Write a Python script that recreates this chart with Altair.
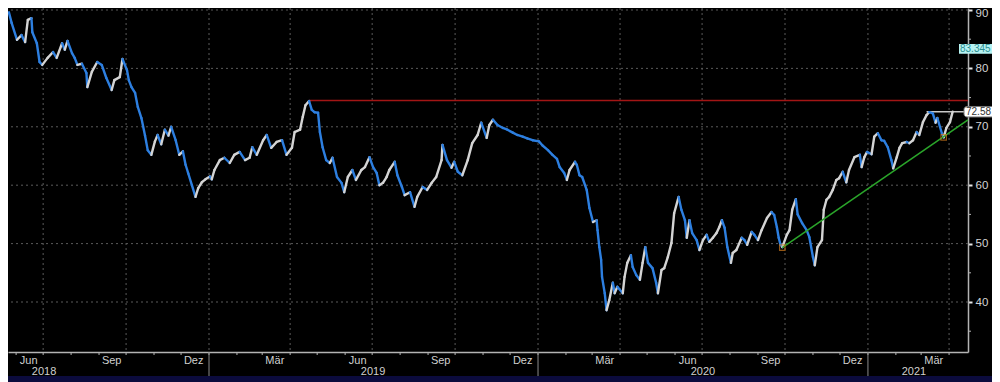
import altair as alt
import pandas as pd
import numpy as np

# ---- data (approximate closes) ----
dates = [
    "2018-05-24", "2018-05-27", "2018-06-02", "2018-06-07", "2018-06-11", "2018-06-14", "2018-06-18", "2018-06-19",
    "2018-06-24", "2018-06-27", "2018-06-30", "2018-07-06", "2018-07-12", "2018-07-16", "2018-07-22", "2018-07-25",
    "2018-07-28", "2018-08-02", "2018-08-05", "2018-08-08", "2018-08-13", "2018-08-18", "2018-08-19", "2018-08-24",
    "2018-08-30", "2018-09-04", "2018-09-09", "2018-09-15", "2018-09-18", "2018-09-24", "2018-09-27", "2018-10-02",
    "2018-10-04", "2018-10-07", "2018-10-11", "2018-10-14", "2018-10-18", "2018-10-22", "2018-10-25", "2018-10-29",
    "2018-11-02", "2018-11-05", "2018-11-09", "2018-11-13", "2018-11-17", "2018-11-20", "2018-11-25", "2018-11-29",
    "2018-12-03", "2018-12-06", "2018-12-09", "2018-12-13", "2018-12-17", "2018-12-20", "2018-12-24", "2018-12-28",
    "2019-01-02", "2019-01-04", "2019-01-07", "2019-01-13", "2019-01-18", "2019-01-24", "2019-01-29", "2019-02-04",
    "2019-02-10", "2019-02-15", "2019-02-18", "2019-02-23", "2019-03-02", "2019-03-06", "2019-03-11", "2019-03-17",
    "2019-03-23", "2019-03-28", "2019-04-03", "2019-04-06", "2019-04-12", "2019-04-15", "2019-04-18", "2019-04-22",
    "2019-04-25", "2019-04-28", "2019-05-02", "2019-05-04", "2019-05-07", "2019-05-11", "2019-05-15", "2019-05-18",
    "2019-05-23", "2019-05-28", "2019-05-31", "2019-06-04", "2019-06-09", "2019-06-13", "2019-06-19", "2019-06-23",
    "2019-06-28", "2019-07-02", "2019-07-06", "2019-07-09", "2019-07-13", "2019-07-17", "2019-07-20", "2019-07-26",
    "2019-07-29", "2019-08-03", "2019-08-06", "2019-08-12", "2019-08-17", "2019-08-20", "2019-08-26", "2019-08-31",
    "2019-09-05", "2019-09-10", "2019-09-16", "2019-09-17", "2019-09-22", "2019-09-27", "2019-09-30", "2019-10-04",
    "2019-10-09", "2019-10-15", "2019-10-20", "2019-10-26", "2019-10-30", "2019-11-05", "2019-11-08", "2019-11-12",
    "2019-11-17", "2019-11-23", "2019-11-28", "2019-12-04", "2019-12-09", "2019-12-15", "2019-12-20", "2019-12-26",
    "2020-01-02", "2020-01-06", "2020-01-12", "2020-01-17", "2020-01-22", "2020-01-25", "2020-01-30", "2020-02-02",
    "2020-02-05", "2020-02-11", "2020-02-13", "2020-02-16", "2020-02-19", "2020-02-24", "2020-02-27", "2020-03-02",
    "2020-03-06", "2020-03-07", "2020-03-09", "2020-03-11", "2020-03-12", "2020-03-15", "2020-03-17", "2020-03-20",
    "2020-03-24", "2020-03-26", "2020-03-29", "2020-04-04", "2020-04-06", "2020-04-09", "2020-04-13", "2020-04-15",
    "2020-04-19", "2020-04-23", "2020-04-26", "2020-04-29", "2020-05-02", "2020-05-07", "2020-05-11", "2020-05-13",
    "2020-05-17", "2020-05-20", "2020-05-24", "2020-05-28", "2020-05-31", "2020-06-05", "2020-06-08", "2020-06-12",
    "2020-06-14", "2020-06-17", "2020-06-20", "2020-06-25", "2020-06-28", "2020-07-02", "2020-07-06", "2020-07-09",
    "2020-07-13", "2020-07-17", "2020-07-20", "2020-07-23", "2020-07-26", "2020-07-29", "2020-08-02", "2020-08-04",
    "2020-08-08", "2020-08-14", "2020-08-17", "2020-08-20", "2020-08-25", "2020-08-28", "2020-09-01", "2020-09-05",
    "2020-09-11", "2020-09-16", "2020-09-19", "2020-09-22", "2020-09-24", "2020-09-26", "2020-09-28", "2020-10-03",
    "2020-10-06", "2020-10-09", "2020-10-13", "2020-10-15", "2020-10-20", "2020-10-25", "2020-10-28", "2020-11-01",
    "2020-11-03", "2020-11-06", "2020-11-11", "2020-11-13", "2020-11-16", "2020-11-19", "2020-11-23", "2020-11-27",
    "2020-11-30", "2020-12-04", "2020-12-08", "2020-12-11", "2020-12-17", "2020-12-23", "2020-12-25", "2020-12-28",
    "2020-12-31", "2021-01-05", "2021-01-08", "2021-01-12", "2021-01-16", "2021-01-19", "2021-01-23", "2021-01-27",
    "2021-01-29", "2021-02-02", "2021-02-05", "2021-02-08", "2021-02-13", "2021-02-16", "2021-02-20", "2021-02-24",
    "2021-02-27", "2021-03-03", "2021-03-07", "2021-03-10", "2021-03-14", "2021-03-17", "2021-03-19", "2021-03-24",
    "2021-03-26", "2021-03-29", "2021-04-02", "2021-04-05",
]
closes = [
    89.6, 87.8, 84.9, 85.7, 84.5, 88.3, 88.6, 86.2,
    84.3, 81.1, 80.6, 81.8, 82.8, 81.8, 84.3, 83.2,
    84.7, 82.6, 81.8, 80.6, 80.8, 79.2, 76.8, 79.4,
    81.1, 80.6, 78.4, 76.3, 78.0, 78.5, 81.6, 79.7,
    78.0, 76.8, 75.8, 73.4, 71.5, 68.5, 66.0, 65.2,
    67.5, 68.6, 67.0, 69.5, 68.5, 70.0, 67.7, 65.2,
    65.8, 63.5, 62.0, 60.0, 58.0, 59.5, 60.5, 61.0,
    61.5, 61.0, 62.6, 64.3, 64.7, 63.8, 65.2, 65.7,
    64.3, 64.7, 66.5, 65.2, 67.7, 68.6, 66.4, 67.4,
    67.7, 65.2, 66.4, 69.1, 69.5, 71.7, 73.7, 74.4,
    72.9, 72.5, 72.4, 69.1, 66.5, 64.3, 63.8, 64.7,
    61.4, 60.4, 58.8, 61.4, 62.6, 60.9, 62.6, 63.1,
    64.8, 63.1, 62.1, 60.0, 60.4, 61.4, 62.6, 64.0,
    61.7, 59.7, 58.3, 58.8, 56.3, 58.0, 59.7, 59.2,
    60.4, 61.4, 64.3, 66.9, 64.3, 63.0, 64.0, 62.3,
    61.7, 64.3, 67.2, 68.6, 70.7, 68.1, 70.3, 71.2,
    70.3, 69.8, 69.5, 69.0, 68.6, 68.3, 68.0, 67.7,
    67.5, 66.8, 66.0, 65.2, 64.5, 63.1, 62.1, 60.9,
    62.6, 64.0, 63.5, 61.7, 61.4, 59.2, 56.1, 53.7,
    54.0, 52.3, 49.4, 47.2, 44.3, 41.5, 38.6, 40.3,
    43.3, 41.5, 42.6, 41.5, 44.3, 46.7, 48.0, 46.0,
    44.6, 43.8, 46.7, 49.4, 46.7, 45.8, 43.3, 41.5,
    45.5, 45.8, 47.7, 50.1, 55.2, 58.0, 55.8, 54.0,
    51.0, 54.0, 51.8, 50.6, 48.9, 50.6, 51.5, 50.3,
    51.0, 51.8, 52.8, 54.0, 52.7, 49.4, 46.7, 48.4,
    48.9, 51.0, 50.6, 49.8, 52.0, 51.5, 50.6, 52.3,
    54.4, 55.4, 54.9, 52.8, 51.0, 49.8, 49.4, 51.5,
    52.3, 55.8, 57.6, 55.0, 53.5, 52.3, 51.1, 47.7,
    46.3, 49.4, 50.6, 55.8, 57.5, 58.0, 59.2, 60.9,
    61.2, 62.3, 60.5, 62.6, 64.8, 65.2, 63.1, 64.8,
    65.7, 65.3, 68.3, 68.9, 67.7, 67.6, 66.5, 64.3,
    62.9, 64.8, 66.4, 67.2, 67.4, 67.2, 67.7, 69.1,
    68.6, 70.8, 72.0, 72.5, 72.3, 70.7, 71.5, 68.9,
    68.2, 69.8, 70.8, 72.6,
]

resistance_start = "2019-04-22"
resistance_level = 74.5
trend_dates = ["2020-09-28", "2021-04-22"]
trend_values = [49.3, 71.2]
pivot_dates = ["2020-09-28", "2021-03-26"]
pivot_values = [49.3, 68.2]
last_line_start = "2021-03-07"
last_price = 72.58
tag_other = 83.345

month_label_dates = ["2018-06-15", "2018-09-15", "2018-12-15", "2019-03-15", "2019-06-15", "2019-09-15",
                     "2019-12-15", "2020-03-15", "2020-06-15", "2020-09-15", "2020-12-15", "2021-03-15"]
month_label_text = ["Jun", "Sep", "Dez", "Mär", "Jun", "Sep", "Dez", "Mär", "Jun", "Sep", "Dez", "Mär"]
year_label_dates = ["2018-07-02", "2019-07-02", "2020-07-02", "2021-02-21"]
year_label_text = ["2018", "2019", "2020", "2021"]
year_sep_dates = ["2019-01-01", "2020-01-01", "2021-01-01"]
quarter_dates = ["2018-07-01", "2018-10-01", "2019-01-01", "2019-04-01", "2019-07-01", "2019-10-01",
                 "2020-01-01", "2020-04-01", "2020-07-01", "2020-10-01", "2021-01-01", "2021-04-01"]
month_starts = pd.date_range("2018-06-01", "2021-04-01", freq="MS").strftime("%Y-%m-%d").tolist()
y_major = [40, 50, 60, 70, 80, 90]
y_minor = [35, 45, 55, 65, 75, 85]
x_end = "2021-04-22"

# ---- build tables ----
W, H = 960, 344
RP, BP = 24, 30
df = pd.DataFrame({"date": dates, "close": closes})
df["prev_date"] = df["date"].shift(1)
df["prev_close"] = df["close"].shift(1)
df = df.dropna().copy()
df["dir"] = np.where(df["close"] >= df["prev_close"], "up", "down")

xs = alt.Scale(type="utc", domain=[alt.DateTime(year=2018, month=5, date=23, utc=True),
                                   alt.DateTime(year=2021, month=4, date=22, utc=True)])
ys = alt.Scale(domain=[31.44, 90.34], nice=False, zero=False)

FONT = "Liberation Sans, Arial"
GRID = "#5a5a5a"
AXIS = "#b4b4b4"

base_x_axis = alt.Axis(labels=False, ticks=False, grid=False, title=None,
                       domainColor=AXIS, domainWidth=1.5)
y_axis = alt.Axis(orient="right", values=y_major, labelOverlap=False,
                  tickSize=4, tickColor="#e6e6e6", tickWidth=2, labelColor="#d4d4d4",
                  labelFontSize=11.5, labelFont=FONT, labelPadding=3,
                  labelOffset={"condition": {"test": "datum.value >= 90", "value": 4}, "value": 0},
                  domainColor=AXIS, domainWidth=1.5, grid=False, title=None)

hgrid = alt.Chart(pd.DataFrame({"v": y_major})).mark_rule(
    color=GRID, strokeDash=[2, 3], strokeWidth=1).encode(
    y=alt.Y("v:Q", scale=ys, axis=y_axis))

minor = alt.Chart(pd.DataFrame({"v": y_minor})).mark_rule(
    color="#b4b4b4", strokeWidth=1).encode(
    y="v:Q", x=alt.value(W), x2=alt.value(W + 3))

vgrid = alt.Chart(pd.DataFrame({"d": quarter_dates})).mark_rule(
    color=GRID, strokeDash=[2, 3], strokeWidth=1).encode(
    x=alt.X("d:T", scale=xs, axis=base_x_axis))

red = alt.Chart(pd.DataFrame({"d": [resistance_start], "d2": [x_end], "v": [resistance_level]})).mark_rule(
    color="#a31515", strokeWidth=1.6).encode(x="d:T", x2="d2:T", y="v:Q")

grey = alt.Chart(pd.DataFrame({"d": [last_line_start], "d2": [x_end], "v": [last_price]})).mark_rule(
    color="#c8c8c8", strokeWidth=1.5).encode(x="d:T", x2="d2:T", y="v:Q")

price = alt.Chart(df).mark_rule(strokeWidth=2.4, strokeCap="round").encode(
    x="prev_date:T", y="prev_close:Q", x2="date:T", y2="close:Q",
    color=alt.Color("dir:N", scale=alt.Scale(domain=["up", "down"], range=["#d4d4d4", "#2d7fe0"]),
                    legend=None))

trend = alt.Chart(pd.DataFrame({"d": trend_dates, "v": trend_values})).mark_line(
    color="#2aa52a", strokeWidth=1.6).encode(x="d:T", y="v:Q")

pivots = alt.Chart(pd.DataFrame({"d": pivot_dates, "v": pivot_values})).mark_square(
    filled=False, color="#d07a1c", size=30, strokeWidth=1.2).encode(x="d:T", y="v:Q")

# month ticks, year separators, labels
mticks = alt.Chart(pd.DataFrame({"d": month_starts})).mark_rule(color=AXIS, strokeWidth=1).encode(
    x="d:T", y=alt.value(H), y2=alt.value(H + 3))
ysep = alt.Chart(pd.DataFrame({"d": year_sep_dates})).mark_rule(color="#8c8c8c", strokeWidth=1).encode(
    x="d:T", y=alt.value(H), y2=alt.value(H + 24))
mlabels = alt.Chart(pd.DataFrame({"d": month_label_dates, "t": month_label_text})).mark_text(
    color="#cfcfcf", fontSize=11, font=FONT, baseline="middle").encode(
    x="d:T", y=alt.value(H + 9), text="t:N")
ylabels = alt.Chart(pd.DataFrame({"d": year_label_dates, "t": year_label_text})).mark_text(
    color="#cfcfcf", fontSize=11, font=FONT, baseline="middle").encode(
    x="d:T", y=alt.value(H + 20), text="t:N")
band = alt.Chart(pd.DataFrame({"a": [0]})).mark_rect(color="#0b0b3d").encode(
    x=alt.value(0), x2=alt.value(W + RP), y=alt.value(H + 24), y2=alt.value(H + BP))

# price tags on the right
tags = pd.DataFrame({"v": [tag_other, last_price], "lo": [tag_other - 0.85, last_price - 0.9],
                     "hi": [tag_other + 0.85, last_price + 0.9], "t": ["83.345", "72.58"],
                     "k": ["a", "b"]})
tag_rect_a = alt.Chart(tags[tags.k == "a"]).mark_rect(color="#b6f3f3").encode(
    x=alt.value(W - 9), x2=alt.value(W + RP), y="lo:Q", y2="hi:Q")
tag_rect_b = alt.Chart(tags[tags.k == "b"]).mark_rect(
    fill="#ffffff", stroke="#777777", strokeWidth=1, cornerRadius=3).encode(
    x=alt.value(W - 4), x2=alt.value(W + RP + 4), y="lo:Q", y2="hi:Q")
tag_text_a = alt.Chart(tags[tags.k == "a"]).mark_text(
    color="#2b8f8f", fontSize=10, font=FONT, align="left", baseline="middle").encode(
    x=alt.value(W - 8), y="v:Q", text="t:N")
tag_text_b = alt.Chart(tags[tags.k == "b"]).mark_text(
    color="#333333", fontSize=10, font=FONT, align="left", baseline="middle").encode(
    x=alt.value(W - 2), y="v:Q", text="t:N")

chart = alt.layer(
    hgrid, vgrid, minor, red, grey, price, trend, pivots, mticks, ysep, mlabels, ylabels, band,
    tag_rect_a, tag_rect_b, tag_text_a, tag_text_b
).properties(
    width=W, height=H,
    autosize=alt.AutoSizeParams(type="none"),
    padding={"left": 0, "top": 0, "right": RP, "bottom": BP},
    background="#000000",
).configure_view(stroke=None)

chart.save("out.html", embed_options={"renderer": "svg", "actions": False})
